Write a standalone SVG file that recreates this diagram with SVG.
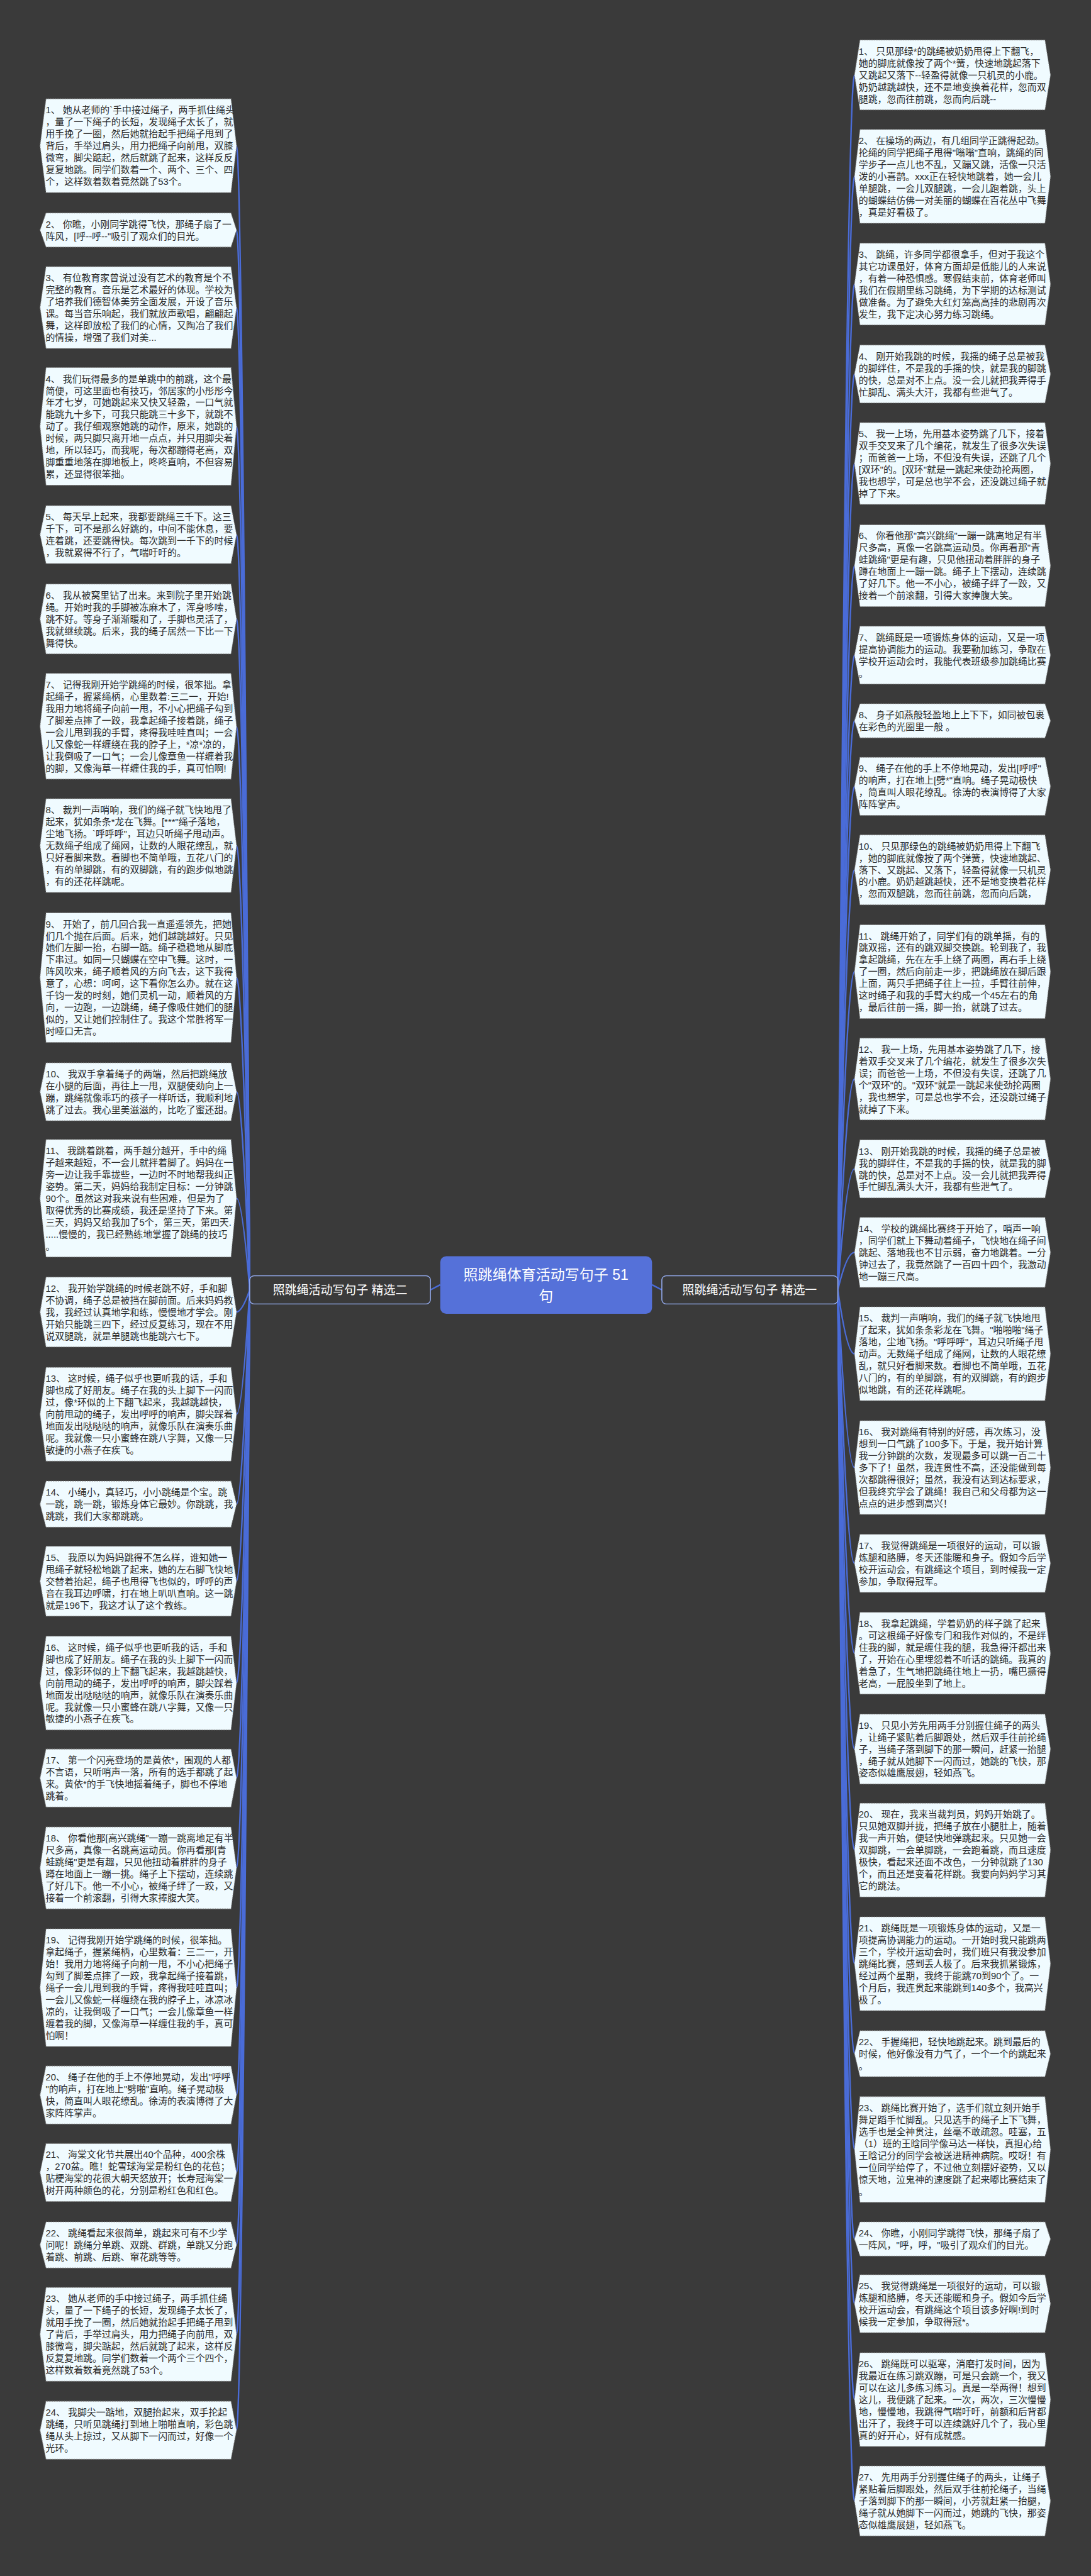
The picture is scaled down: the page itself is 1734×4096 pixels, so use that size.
<svg xmlns="http://www.w3.org/2000/svg" width="1734" height="4096" viewBox="0 0 1734 4096">
<style>
.leaf{fill:#f0fbff;stroke:#8a8a8a;stroke-width:1.6;stroke-dasharray:2 2}
.t{font-family:"Liberation Sans","Noto Sans CJK SC",sans-serif;font-size:22px;fill:#2a2a2a}
.c{fill:none;stroke:#4a6cd8;stroke-width:3.5}
.br{fill:#3a3a3a;stroke:#9db6ff;stroke-width:2}
.bt{font-family:"Liberation Sans","Noto Sans CJK SC",sans-serif;font-size:28px;fill:#ffffff}
.ct{font-family:"Liberation Sans","Noto Sans CJK SC",sans-serif;font-size:34px;fill:#ffffff}
</style>
<rect x="0" y="0" width="1734" height="4096" fill="#3a3a3a"/>
<g transform="scale(0.67734)">
<g id="connectors">
<path class="c" d="M1033,3016 L1010,3028"/>
<path class="c" d="M1530,3016 L1553,3028"/>
<path class="c" d="M586,3028 Q568,342 555,342"/>
<path class="c" d="M586,3028 Q568,540 555,540"/>
<path class="c" d="M586,3028 Q568,722 555,722"/>
<path class="c" d="M586,3028 Q568,1001 555,1001"/>
<path class="c" d="M586,3028 Q568,1255 555,1255"/>
<path class="c" d="M586,3028 Q568,1453 555,1453"/>
<path class="c" d="M586,3028 Q568,1705 555,1705"/>
<path class="c" d="M586,3028 Q568,1985 555,1985"/>
<path class="c" d="M586,3028 Q568,2295 555,2295"/>
<path class="c" d="M586,3028 Q568,2563 555,2563"/>
<path class="c" d="M586,3028 Q568,2813 555,2813"/>
<path class="c" d="M586,3028 Q568,3080 555,3080"/>
<path class="c" d="M586,3028 Q568,3320 555,3320"/>
<path class="c" d="M586,3028 Q568,3531 555,3531"/>
<path class="c" d="M586,3028 Q568,3712 555,3712"/>
<path class="c" d="M586,3028 Q568,3951 555,3951"/>
<path class="c" d="M586,3028 Q568,4174 555,4174"/>
<path class="c" d="M586,3028 Q568,4385 555,4385"/>
<path class="c" d="M586,3028 Q568,4666 555,4666"/>
<path class="c" d="M586,3028 Q568,4918 555,4918"/>
<path class="c" d="M586,3028 Q568,5100 555,5100"/>
<path class="c" d="M586,3028 Q568,5270 555,5270"/>
<path class="c" d="M586,3028 Q568,5480 555,5480"/>
<path class="c" d="M586,3028 Q568,5705 555,5705"/>
<path class="c" d="M1966,3028 Q1987,176 2005,176"/>
<path class="c" d="M1966,3028 Q1987,414 2005,414"/>
<path class="c" d="M1966,3028 Q1987,667 2005,667"/>
<path class="c" d="M1966,3028 Q1987,878 2005,878"/>
<path class="c" d="M1966,3028 Q1987,1088 2005,1088"/>
<path class="c" d="M1966,3028 Q1987,1328 2005,1328"/>
<path class="c" d="M1966,3028 Q1987,1538 2005,1538"/>
<path class="c" d="M1966,3028 Q1987,1692 2005,1692"/>
<path class="c" d="M1966,3028 Q1987,1846 2005,1846"/>
<path class="c" d="M1966,3028 Q1987,2042 2005,2042"/>
<path class="c" d="M1966,3028 Q1987,2281 2005,2281"/>
<path class="c" d="M1966,3028 Q1987,2533 2005,2533"/>
<path class="c" d="M1966,3028 Q1987,2744 2005,2744"/>
<path class="c" d="M1966,3028 Q1987,2940 2005,2940"/>
<path class="c" d="M1966,3028 Q1987,3178 2005,3178"/>
<path class="c" d="M1966,3028 Q1987,3445 2005,3445"/>
<path class="c" d="M1966,3028 Q1987,3670 2005,3670"/>
<path class="c" d="M1966,3028 Q1987,3881 2005,3881"/>
<path class="c" d="M1966,3028 Q1987,4106 2005,4106"/>
<path class="c" d="M1966,3028 Q1987,4343 2005,4343"/>
<path class="c" d="M1966,3028 Q1987,4610 2005,4610"/>
<path class="c" d="M1966,3028 Q1987,4821 2005,4821"/>
<path class="c" d="M1966,3028 Q1987,5046 2005,5046"/>
<path class="c" d="M1966,3028 Q1987,5256 2005,5256"/>
<path class="c" d="M1966,3028 Q1987,5408 2005,5408"/>
<path class="c" d="M1966,3028 Q1987,5633 2005,5633"/>
<path class="c" d="M1966,3028 Q1987,5871 2005,5871"/>
</g>
<g id="center">
<rect x="1033" y="2949" width="497" height="135" rx="14" fill="#5571d9"/>
<text class="ct" text-anchor="middle"><tspan x="1281" y="3004">照跳绳体育活动写句子 51</tspan><tspan x="1281" y="3055">句</tspan></text>
</g>
<g id="branch-left">
<rect class="br" x="586" y="2995" width="424" height="66" rx="10"/>
<text class="bt" x="798" y="3038" text-anchor="middle">照跳绳活动写句子 精选二</text>
</g>
<g id="branch-right">
<rect class="br" x="1553" y="2995" width="413" height="66" rx="10"/>
<text class="bt" x="1759" y="3038" text-anchor="middle">照跳绳活动写句子 精选一</text>
</g>

<g id="L1"><polygon class="leaf" points="94,342 108,232 542,232 555,342 542,452 108,452"/><text class="t" y="266"><tspan x="107">1、 她从老师的`手中接过绳子，两手抓住绳头</tspan><tspan x="107" dy="28">，量了一下绳子的长短，发现绳子太长了，就</tspan><tspan x="107" dy="28">用手挽了一圈，然后她就抬起手把绳子甩到了</tspan><tspan x="107" dy="28">背后，手举过肩头，用力把绳子向前甩，双膝</tspan><tspan x="107" dy="28">微弯，脚尖踮起，然后就跳了起来，这样反反</tspan><tspan x="107" dy="28">复复地跳。同学们数着一个、两个、三个、四</tspan><tspan x="107" dy="28">个，这样数着数着竟然跳了53个。</tspan></text></g>
<g id="L2"><polygon class="leaf" points="94,540 108,500 542,500 555,540 542,580 108,580"/><text class="t" y="534"><tspan x="107">2、 你瞧，小刚同学跳得飞快，那绳子扇了一</tspan><tspan x="107" dy="28">阵风，[呼--呼--"吸引了观众们的目光。</tspan></text></g>
<g id="L3"><polygon class="leaf" points="94,722 108,626 542,626 555,722 542,818 108,818"/><text class="t" y="660"><tspan x="107">3、 有位教育家曾说过没有艺术的教育是个不</tspan><tspan x="107" dy="28">完整的教育。音乐是艺术最好的体现。学校为</tspan><tspan x="107" dy="28">了培养我们德智体美劳全面发展，开设了音乐</tspan><tspan x="107" dy="28">课。每当音乐响起，我们就放声歌唱，翩翩起</tspan><tspan x="107" dy="28">舞，这样即放松了我们的心情，又陶冶了我们</tspan><tspan x="107" dy="28">的情操，增强了我们对美...</tspan></text></g>
<g id="L4"><polygon class="leaf" points="94,1001 108,863 542,863 555,1001 542,1139 108,1139"/><text class="t" y="897"><tspan x="107">4、 我们玩得最多的是单跳中的前跳，这个最</tspan><tspan x="107" dy="28">简便，可这里面也有技巧，邻居家的小彤彤今</tspan><tspan x="107" dy="28">年才七岁，可她跳起来又快又轻盈，一口气就</tspan><tspan x="107" dy="28">能跳九十多下，可我只能跳三十多下，就跳不</tspan><tspan x="107" dy="28">动了。我仔细观察她跳的动作，原来，她跳的</tspan><tspan x="107" dy="28">时候，两只脚只离开地一点点，并只用脚尖着</tspan><tspan x="107" dy="28">地，所以轻巧，而我呢，每次都蹦得老高，双</tspan><tspan x="107" dy="28">脚重重地落在脚地板上，咚咚直响，不但容易</tspan><tspan x="107" dy="28">累，还显得很笨拙。</tspan></text></g>
<g id="L5"><polygon class="leaf" points="94,1255 108,1187 542,1187 555,1255 542,1323 108,1323"/><text class="t" y="1221"><tspan x="107">5、 每天早上起来，我都要跳绳三千下。这三</tspan><tspan x="107" dy="28">千下，可不是那么好跳的，中间不能休息，要</tspan><tspan x="107" dy="28">连着跳，还要跳得快。每次跳到一千下的时候</tspan><tspan x="107" dy="28">，我就累得不行了，气喘吁吁的。</tspan></text></g>
<g id="L6"><polygon class="leaf" points="94,1453 108,1371 542,1371 555,1453 542,1535 108,1535"/><text class="t" y="1405"><tspan x="107">6、 我从被窝里钻了出来。来到院子里开始跳</tspan><tspan x="107" dy="28">绳。开始时我的手脚被冻麻木了，浑身哆嗦，</tspan><tspan x="107" dy="28">跳不好。等身子渐渐暖和了，手脚也灵活了，</tspan><tspan x="107" dy="28">我就继续跳。后来，我的绳子居然一下比一下</tspan><tspan x="107" dy="28">舞得快。</tspan></text></g>
<g id="L7"><polygon class="leaf" points="94,1705 108,1581 542,1581 555,1705 542,1829 108,1829"/><text class="t" y="1615"><tspan x="107">7、 记得我刚开始学跳绳的时候，很笨拙。拿</tspan><tspan x="107" dy="28">起绳子，握紧绳柄，心里数着:三二一，开始!</tspan><tspan x="107" dy="28">我用力地将绳子向前一甩，不小心把绳子勾到</tspan><tspan x="107" dy="28">了脚差点摔了一跤，我拿起绳子接着跳，绳子</tspan><tspan x="107" dy="28">一会儿甩到我的手臂，疼得我哇哇直叫；一会</tspan><tspan x="107" dy="28">儿又像蛇一样缠绕在我的脖子上，*凉*凉的，</tspan><tspan x="107" dy="28">让我倒吸了一口气；一会儿像章鱼一样缠着我</tspan><tspan x="107" dy="28">的脚，又像海草一样缠住我的手，真可怕啊!</tspan></text></g>
<g id="L8"><polygon class="leaf" points="94,1985 108,1875 542,1875 555,1985 542,2095 108,2095"/><text class="t" y="1909"><tspan x="107">8、 裁判一声哨响，我们的绳子就飞快地甩了</tspan><tspan x="107" dy="28">起来，犹如条条*龙在飞舞。[***"绳子落地，</tspan><tspan x="107" dy="28">尘地飞扬。`呼呼呼"，耳边只听绳子甩动声。</tspan><tspan x="107" dy="28">无数绳子组成了绳网，让数的人眼花缭乱，就</tspan><tspan x="107" dy="28">只好看脚来数。看脚也不简单哦，五花八门的</tspan><tspan x="107" dy="28">，有的单脚跳，有的双脚跳，有的跑步似地跳</tspan><tspan x="107" dy="28">，有的还花样跳呢。</tspan></text></g>
<g id="L9"><polygon class="leaf" points="94,2295 108,2143 542,2143 555,2295 542,2447 108,2447"/><text class="t" y="2177"><tspan x="107">9、 开始了，前几回合我一直遥遥领先，把她</tspan><tspan x="107" dy="28">们几个抛在后面。后来，她们越跳越好。只见</tspan><tspan x="107" dy="28">她们左脚一抬，右脚一踮。绳子稳稳地从脚底</tspan><tspan x="107" dy="28">下串过。如同一只蝴蝶在空中飞舞。这时，一</tspan><tspan x="107" dy="28">阵风吹来，绳子顺着风的方向飞去，这下我得</tspan><tspan x="107" dy="28">意了，心想：呵呵，这下看你怎么办。就在这</tspan><tspan x="107" dy="28">千钧一发的时刻，她们灵机一动，顺着风的方</tspan><tspan x="107" dy="28">向，一边跑，一边跳绳，绳子像吸住她们的腿</tspan><tspan x="107" dy="28">似的，又让她们控制住了。我这个常胜将军一</tspan><tspan x="107" dy="28">时哑口无言。</tspan></text></g>
<g id="L10"><polygon class="leaf" points="94,2563 108,2495 542,2495 555,2563 542,2631 108,2631"/><text class="t" y="2529"><tspan x="107">10、 我双手拿着绳子的两端，然后把跳绳放</tspan><tspan x="107" dy="28">在小腿的后面，再往上一甩，双腿使劲向上一</tspan><tspan x="107" dy="28">蹦，跳绳就像乖巧的孩子一样听话，我顺利地</tspan><tspan x="107" dy="28">跳了过去。我心里美滋滋的，比吃了蜜还甜。</tspan></text></g>
<g id="L11"><polygon class="leaf" points="94,2813 108,2675 542,2675 555,2813 542,2951 108,2951"/><text class="t" y="2709"><tspan x="107">11、 我跳着跳着，两手越分越开，手中的绳</tspan><tspan x="107" dy="28">子越来越短，不一会儿就拌着脚了。妈妈在一</tspan><tspan x="107" dy="28">旁一边让我手靠拢些，一边时不时地帮我纠正</tspan><tspan x="107" dy="28">姿势。第二天，妈妈给我制定目标：一分钟跳</tspan><tspan x="107" dy="28">90个。虽然这对我来说有些困难，但是为了</tspan><tspan x="107" dy="28">取得优秀的比赛成绩，我还是坚持了下来。第</tspan><tspan x="107" dy="28">三天，妈妈又给我加了5个，第三天，第四天.</tspan><tspan x="107" dy="28">.....慢慢的，我已经熟练地掌握了跳绳的技巧</tspan><tspan x="107" dy="28">。</tspan></text></g>
<g id="L12"><polygon class="leaf" points="94,3080 108,2998 542,2998 555,3080 542,3162 108,3162"/><text class="t" y="3032"><tspan x="107">12、 我开始学跳绳的时候老跳不好，手和脚</tspan><tspan x="107" dy="28">不协调，绳子总是被挡在脚前面。后来妈妈教</tspan><tspan x="107" dy="28">我，我经过认真地学和练，慢慢地才学会。刚</tspan><tspan x="107" dy="28">开始只能跳三四下，经过反复练习，现在不用</tspan><tspan x="107" dy="28">说双腿跳，就是单腿跳也能跳六七下。</tspan></text></g>
<g id="L13"><polygon class="leaf" points="94,3320 108,3210 542,3210 555,3320 542,3430 108,3430"/><text class="t" y="3244"><tspan x="107">13、 这时候，绳子似乎也更听我的话，手和</tspan><tspan x="107" dy="28">脚也成了好朋友。绳子在我的头上脚下一闪而</tspan><tspan x="107" dy="28">过，像*环似的上下翻飞起来，我越跳越快，</tspan><tspan x="107" dy="28">向前甩动的绳子，发出呼呼的响声，脚尖踩着</tspan><tspan x="107" dy="28">地面发出哒哒哒的响声，就像乐队在演奏乐曲</tspan><tspan x="107" dy="28">呢。我就像一只小蜜蜂在跳八字舞，又像一只</tspan><tspan x="107" dy="28">敏捷的小燕子在疾飞。</tspan></text></g>
<g id="L14"><polygon class="leaf" points="94,3531 108,3477 542,3477 555,3531 542,3585 108,3585"/><text class="t" y="3511"><tspan x="107">14、 小绳小，真轻巧，小小跳绳是个宝。跳</tspan><tspan x="107" dy="28">一跳，跳一跳，锻炼身体它最妙。你跳跳，我</tspan><tspan x="107" dy="28">跳跳，我们大家都跳跳。</tspan></text></g>
<g id="L15"><polygon class="leaf" points="94,3712 108,3630 542,3630 555,3712 542,3794 108,3794"/><text class="t" y="3664"><tspan x="107">15、 我原以为妈妈跳得不怎么样，谁知她一</tspan><tspan x="107" dy="28">甩绳子就轻松地跳了起来，她的左右脚飞快地</tspan><tspan x="107" dy="28">交替着抬起，绳子也甩得飞也似的，呼呼的声</tspan><tspan x="107" dy="28">音在我耳边呼啸，打在地上叭叭直响。这一跳</tspan><tspan x="107" dy="28">就是196下，我这才认了这个教练。</tspan></text></g>
<g id="L16"><polygon class="leaf" points="94,3951 108,3841 542,3841 555,3951 542,4061 108,4061"/><text class="t" y="3875"><tspan x="107">16、 这时候，绳子似乎也更听我的话，手和</tspan><tspan x="107" dy="28">脚也成了好朋友。绳子在我的头上脚下一闪而</tspan><tspan x="107" dy="28">过，像彩环似的上下翻飞起来，我越跳越快，</tspan><tspan x="107" dy="28">向前甩动的绳子，发出呼呼的响声，脚尖踩着</tspan><tspan x="107" dy="28">地面发出哒哒哒的响声，就像乐队在演奏乐曲</tspan><tspan x="107" dy="28">呢。我就像一只小蜜蜂在跳八字舞，又像一只</tspan><tspan x="107" dy="28">敏捷的小燕子在疾飞。</tspan></text></g>
<g id="L17"><polygon class="leaf" points="94,4174 108,4106 542,4106 555,4174 542,4242 108,4242"/><text class="t" y="4140"><tspan x="107">17、 第一个闪亮登场的是黄依*，围观的人都</tspan><tspan x="107" dy="28">不言语，只听哨声一落，所有的选手都跳了起</tspan><tspan x="107" dy="28">来。黄依*的手飞快地摇着绳子，脚也不停地</tspan><tspan x="107" dy="28">跳着。</tspan></text></g>
<g id="L18"><polygon class="leaf" points="94,4385 108,4289 542,4289 555,4385 542,4481 108,4481"/><text class="t" y="4323"><tspan x="107">18、 你看他那[高兴跳绳"一蹦一跳离地足有半</tspan><tspan x="107" dy="28">尺多高，真像一名跳高运动员。你再看那[青</tspan><tspan x="107" dy="28">蛙跳绳"更是有趣，只见他扭动着胖胖的身子</tspan><tspan x="107" dy="28">蹲在地面上一蹦一挑。绳子上下摆动，连续跳</tspan><tspan x="107" dy="28">了好几下。他一不小心，被绳子绊了一跤，又</tspan><tspan x="107" dy="28">接着一个前滚翻，引得大家捧腹大笑。</tspan></text></g>
<g id="L19"><polygon class="leaf" points="94,4666 108,4528 542,4528 555,4666 542,4804 108,4804"/><text class="t" y="4562"><tspan x="107">19、 记得我刚开始学跳绳的时候，很笨拙。</tspan><tspan x="107" dy="28">拿起绳子，握紧绳柄，心里数着：三二一，开</tspan><tspan x="107" dy="28">始！我用力地将绳子向前一甩，不小心把绳子</tspan><tspan x="107" dy="28">勾到了脚差点摔了一跤，我拿起绳子接着跳，</tspan><tspan x="107" dy="28">绳子一会儿甩到我的手臂，疼得我哇哇直叫；</tspan><tspan x="107" dy="28">一会儿又像蛇一样缠绕在我的脖子上，冰凉冰</tspan><tspan x="107" dy="28">凉的，让我倒吸了一口气；一会儿像章鱼一样</tspan><tspan x="107" dy="28">缠着我的脚，又像海草一样缠住我的手，真可</tspan><tspan x="107" dy="28">怕啊！</tspan></text></g>
<g id="L20"><polygon class="leaf" points="94,4918 108,4850 542,4850 555,4918 542,4986 108,4986"/><text class="t" y="4884"><tspan x="107">20、 绳子在他的手上不停地晃动，发出"呼呼</tspan><tspan x="107" dy="28">"的响声，打在地上"劈啪"直响。绳子晃动极</tspan><tspan x="107" dy="28">快，简直叫人眼花缭乱。徐涛的表演博得了大</tspan><tspan x="107" dy="28">家阵阵掌声。</tspan></text></g>
<g id="L21"><polygon class="leaf" points="94,5100 108,5032 542,5032 555,5100 542,5168 108,5168"/><text class="t" y="5066"><tspan x="107">21、 海棠文化节共展出40个品种，400余株</tspan><tspan x="107" dy="28">，270盆。瞧！蛇雪球海棠是粉红色的花苞；</tspan><tspan x="107" dy="28">贴梗海棠的花很大朝天怒放开；长寿冠海棠一</tspan><tspan x="107" dy="28">树开两种颜色的花，分别是粉红色和红色。</tspan></text></g>
<g id="L22"><polygon class="leaf" points="94,5270 108,5216 542,5216 555,5270 542,5324 108,5324"/><text class="t" y="5250"><tspan x="107">22、 跳绳看起来很简单，跳起来可有不少学</tspan><tspan x="107" dy="28">问呢！跳绳分单跳、双跳、群跳，单跳又分跑</tspan><tspan x="107" dy="28">着跳、前跳、后跳、窜花跳等等。</tspan></text></g>
<g id="L23"><polygon class="leaf" points="94,5480 108,5370 542,5370 555,5480 542,5590 108,5590"/><text class="t" y="5404"><tspan x="107">23、 她从老师的手中接过绳子，两手抓住绳</tspan><tspan x="107" dy="28">头，量了一下绳子的长短，发现绳子太长了，</tspan><tspan x="107" dy="28">就用手挽了一圈，然后她就抬起手把绳子甩到</tspan><tspan x="107" dy="28">了背后，手举过肩头，用力把绳子向前甩，双</tspan><tspan x="107" dy="28">膝微弯，脚尖踮起，然后就跳了起来，这样反</tspan><tspan x="107" dy="28">反复复地跳。同学们数着一个两个三个四个，</tspan><tspan x="107" dy="28">这样数着数着竟然跳了53个。</tspan></text></g>
<g id="L24"><polygon class="leaf" points="94,5705 108,5637 542,5637 555,5705 542,5773 108,5773"/><text class="t" y="5671"><tspan x="107">24、 我脚尖一踮地，双腿抬起来，双手抡起</tspan><tspan x="107" dy="28">跳绳，只听见跳绳打到地上啪啪直响，彩色跳</tspan><tspan x="107" dy="28">绳从头上掠过，又从脚下一闪而过，好像一个</tspan><tspan x="107" dy="28">光环。</tspan></text></g>

<g id="R1"><polygon class="leaf" points="2005,176 2018,94 2452,94 2465,176 2452,258 2018,258"/><text class="t" y="128"><tspan x="2015">1、 只见那绿*的跳绳被奶奶甩得上下翻飞，</tspan><tspan x="2015" dy="28">她的脚底就像按了两个*簧，快速地跳起落下</tspan><tspan x="2015" dy="28">又跳起又落下--轻盈得就像一只机灵的小鹿。</tspan><tspan x="2015" dy="28">奶奶越跳越快，还不是地变换着花样，忽而双</tspan><tspan x="2015" dy="28">腿跳，忽而往前跳，忽而向后跳--</tspan></text></g>
<g id="R2"><polygon class="leaf" points="2005,414 2018,304 2452,304 2465,414 2452,524 2018,524"/><text class="t" y="338"><tspan x="2015">2、 在操场的两边，有几组同学正跳得起劲。</tspan><tspan x="2015" dy="28">抡绳的同学把绳子甩得"嗡嗡"直响，跳绳的同</tspan><tspan x="2015" dy="28">学步子一点儿也不乱，又蹦又跳，活像一只活</tspan><tspan x="2015" dy="28">泼的小喜鹊。xxx正在轻快地跳着，她一会儿</tspan><tspan x="2015" dy="28">单腿跳，一会儿双腿跳，一会儿跑着跳，头上</tspan><tspan x="2015" dy="28">的蝴蝶结仿佛一对美丽的蝴蝶在百花丛中飞舞</tspan><tspan x="2015" dy="28">，真是好看极了。</tspan></text></g>
<g id="R3"><polygon class="leaf" points="2005,667 2018,571 2452,571 2465,667 2452,763 2018,763"/><text class="t" y="605"><tspan x="2015">3、 跳绳，许多同学都很拿手，但对于我这个</tspan><tspan x="2015" dy="28">其它功课虽好，体育方面却是低能儿的人来说</tspan><tspan x="2015" dy="28">，有着一种恐惧感。寒假结束前，体育老师叫</tspan><tspan x="2015" dy="28">我们在假期里练习跳绳，为下学期的达标测试</tspan><tspan x="2015" dy="28">做准备。为了避免大红灯笼高高挂的悲剧再次</tspan><tspan x="2015" dy="28">发生，我下定决心努力练习跳绳。</tspan></text></g>
<g id="R4"><polygon class="leaf" points="2005,878 2018,810 2452,810 2465,878 2452,946 2018,946"/><text class="t" y="844"><tspan x="2015">4、 刚开始我跳的时候，我摇的绳子总是被我</tspan><tspan x="2015" dy="28">的脚绊住，不是我的手摇的快，就是我的脚跳</tspan><tspan x="2015" dy="28">的快，总是对不上点。没一会儿就把我弄得手</tspan><tspan x="2015" dy="28">忙脚乱、满头大汗，我都有些泄气了。</tspan></text></g>
<g id="R5"><polygon class="leaf" points="2005,1088 2018,992 2452,992 2465,1088 2452,1184 2018,1184"/><text class="t" y="1026"><tspan x="2015">5、 我一上场，先用基本姿势跳了几下，接着</tspan><tspan x="2015" dy="28">双手交叉来了几个编花，就发生了很多次失误</tspan><tspan x="2015" dy="28">；而爸爸一上场，不但没有失误，还跳了几个</tspan><tspan x="2015" dy="28">[双环"的。[双环"就是一跳起来使劲抡两圈，</tspan><tspan x="2015" dy="28">我也想学，可是总也学不会，还没跳过绳子就</tspan><tspan x="2015" dy="28">掉了下来。</tspan></text></g>
<g id="R6"><polygon class="leaf" points="2005,1328 2018,1232 2452,1232 2465,1328 2452,1424 2018,1424"/><text class="t" y="1266"><tspan x="2015">6、 你看他那"高兴跳绳"一蹦一跳离地足有半</tspan><tspan x="2015" dy="28">尺多高，真像一名跳高运动员。你再看那"青</tspan><tspan x="2015" dy="28">蛙跳绳"更是有趣，只见他扭动着胖胖的身子</tspan><tspan x="2015" dy="28">蹲在地面上一蹦一跳。绳子上下摆动，连续跳</tspan><tspan x="2015" dy="28">了好几下。他一不小心，被绳子绊了一跤，又</tspan><tspan x="2015" dy="28">接着一个前滚翻，引得大家捧腹大笑。</tspan></text></g>
<g id="R7"><polygon class="leaf" points="2005,1538 2018,1470 2452,1470 2465,1538 2452,1606 2018,1606"/><text class="t" y="1504"><tspan x="2015">7、 跳绳既是一项锻炼身体的运动，又是一项</tspan><tspan x="2015" dy="28">提高协调能力的运动。我要勤加练习，争取在</tspan><tspan x="2015" dy="28">学校开运动会时，我能代表班级参加跳绳比赛</tspan><tspan x="2015" dy="28">。</tspan></text></g>
<g id="R8"><polygon class="leaf" points="2005,1692 2018,1652 2452,1652 2465,1692 2452,1732 2018,1732"/><text class="t" y="1686"><tspan x="2015">8、 身子如燕般轻盈地上上下下，如同被包裹</tspan><tspan x="2015" dy="28">在彩色的光圈里一般 。</tspan></text></g>
<g id="R9"><polygon class="leaf" points="2005,1846 2018,1778 2452,1778 2465,1846 2452,1914 2018,1914"/><text class="t" y="1812"><tspan x="2015">9、 绳子在他的手上不停地晃动，发出[呼呼"</tspan><tspan x="2015" dy="28">的响声，打在地上[劈*"直响。绳子晃动极快</tspan><tspan x="2015" dy="28">，简直叫人眼花缭乱。徐涛的表演博得了大家</tspan><tspan x="2015" dy="28">阵阵掌声。</tspan></text></g>
<g id="R10"><polygon class="leaf" points="2005,2042 2018,1960 2452,1960 2465,2042 2452,2124 2018,2124"/><text class="t" y="1994"><tspan x="2015">10、 只见那绿色的跳绳被奶奶甩得上下翻飞</tspan><tspan x="2015" dy="28">，她的脚底就像按了两个弹簧，快速地跳起、</tspan><tspan x="2015" dy="28">落下、又跳起、又落下，轻盈得就像一只机灵</tspan><tspan x="2015" dy="28">的小鹿。奶奶越跳越快，还不是地变换着花样</tspan><tspan x="2015" dy="28">，忽而双腿跳，忽而往前跳，忽而向后跳，</tspan></text></g>
<g id="R11"><polygon class="leaf" points="2005,2281 2018,2171 2452,2171 2465,2281 2452,2391 2018,2391"/><text class="t" y="2205"><tspan x="2015">11、 跳绳开始了，同学们有的跳单摇，有的</tspan><tspan x="2015" dy="28">跳双摇，还有的跳双脚交换跳。轮到我了，我</tspan><tspan x="2015" dy="28">拿起跳绳，先在左手上绕了两圈，再右手上绕</tspan><tspan x="2015" dy="28">了一圈，然后向前走一步，把跳绳放在脚后跟</tspan><tspan x="2015" dy="28">上面，两只手把绳子往上一拉，手臂往前伸，</tspan><tspan x="2015" dy="28">这时绳子和我的手臂大约成一个45左右的角</tspan><tspan x="2015" dy="28">，最后往前一摇，脚一抬，就跳了过去。</tspan></text></g>
<g id="R12"><polygon class="leaf" points="2005,2533 2018,2437 2452,2437 2465,2533 2452,2629 2018,2629"/><text class="t" y="2471"><tspan x="2015">12、 我一上场，先用基本姿势跳了几下，接</tspan><tspan x="2015" dy="28">着双手交叉来了几个编花，就发生了很多次失</tspan><tspan x="2015" dy="28">误；而爸爸一上场，不但没有失误，还跳了几</tspan><tspan x="2015" dy="28">个"双环"的。"双环"就是一跳起来使劲抡两圈</tspan><tspan x="2015" dy="28">，我也想学，可是总也学不会，还没跳过绳子</tspan><tspan x="2015" dy="28">就掉了下来。</tspan></text></g>
<g id="R13"><polygon class="leaf" points="2005,2744 2018,2676 2452,2676 2465,2744 2452,2812 2018,2812"/><text class="t" y="2710"><tspan x="2015">13、 刚开始我跳的时候，我摇的绳子总是被</tspan><tspan x="2015" dy="28">我的脚绊住，不是我的手摇的快，就是我的脚</tspan><tspan x="2015" dy="28">跳的快，总是对不上点。没一会儿就把我弄得</tspan><tspan x="2015" dy="28">手忙脚乱满头大汗，我都有些泄气了。</tspan></text></g>
<g id="R14"><polygon class="leaf" points="2005,2940 2018,2858 2452,2858 2465,2940 2452,3022 2018,3022"/><text class="t" y="2892"><tspan x="2015">14、 学校的跳绳比赛终于开始了，哨声一响</tspan><tspan x="2015" dy="28">，同学们就上下舞动着绳子，飞快地在绳子间</tspan><tspan x="2015" dy="28">跳起、落地我也不甘示弱，奋力地跳着。一分</tspan><tspan x="2015" dy="28">钟过去了，我竟然跳了一百四十四个，我激动</tspan><tspan x="2015" dy="28">地一蹦三尺高。</tspan></text></g>
<g id="R15"><polygon class="leaf" points="2005,3178 2018,3068 2452,3068 2465,3178 2452,3288 2018,3288"/><text class="t" y="3102"><tspan x="2015">15、 裁判一声哨响，我们的绳子就飞快地甩</tspan><tspan x="2015" dy="28">了起来，犹如条条彩龙在飞舞。"啪啪啪"绳子</tspan><tspan x="2015" dy="28">落地，尘地飞扬。"呼呼呼"，耳边只听绳子甩</tspan><tspan x="2015" dy="28">动声。无数绳子组成了绳网，让数的人眼花缭</tspan><tspan x="2015" dy="28">乱，就只好看脚来数。看脚也不简单哦，五花</tspan><tspan x="2015" dy="28">八门的，有的单脚跳，有的双脚跳，有的跑步</tspan><tspan x="2015" dy="28">似地跳，有的还花样跳呢。</tspan></text></g>
<g id="R16"><polygon class="leaf" points="2005,3445 2018,3335 2452,3335 2465,3445 2452,3555 2018,3555"/><text class="t" y="3369"><tspan x="2015">16、 我对跳绳有特别的好感，再次练习，没</tspan><tspan x="2015" dy="28">想到一口气跳了100多下。于是，我开始计算</tspan><tspan x="2015" dy="28">我一分钟跳的次数，发现最多可以跳一百二十</tspan><tspan x="2015" dy="28">多下了！虽然，我连贯性不高，还没能做到每</tspan><tspan x="2015" dy="28">次都跳得很好；虽然，我没有达到达标要求，</tspan><tspan x="2015" dy="28">但我终究学会了跳绳！我自己和父母都为这一</tspan><tspan x="2015" dy="28">点点的进步感到高兴！</tspan></text></g>
<g id="R17"><polygon class="leaf" points="2005,3670 2018,3602 2452,3602 2465,3670 2452,3738 2018,3738"/><text class="t" y="3636"><tspan x="2015">17、 我觉得跳绳是一项很好的运动，可以锻</tspan><tspan x="2015" dy="28">炼腿和胳膊，冬天还能暖和身子。假如今后学</tspan><tspan x="2015" dy="28">校开运动会，有跳绳这个项目，到时候我一定</tspan><tspan x="2015" dy="28">参加，争取得冠军。</tspan></text></g>
<g id="R18"><polygon class="leaf" points="2005,3881 2018,3785 2452,3785 2465,3881 2452,3977 2018,3977"/><text class="t" y="3819"><tspan x="2015">18、 我拿起跳绳，学着奶奶的样子跳了起来</tspan><tspan x="2015" dy="28">。可这根绳子好像专门和我作对似的，不是绊</tspan><tspan x="2015" dy="28">住我的脚，就是缠住我的腿，我急得汗都出来</tspan><tspan x="2015" dy="28">了，开始在心里埋怨着不听话的跳绳。我真的</tspan><tspan x="2015" dy="28">着急了，生气地把跳绳往地上一扔，嘴巴撅得</tspan><tspan x="2015" dy="28">老高，一屁股坐到了地上。</tspan></text></g>
<g id="R19"><polygon class="leaf" points="2005,4106 2018,4024 2452,4024 2465,4106 2452,4188 2018,4188"/><text class="t" y="4058"><tspan x="2015">19、 只见小芳先用两手分别握住绳子的两头</tspan><tspan x="2015" dy="28">，让绳子紧贴着后脚跟处，然后双手往前抡绳</tspan><tspan x="2015" dy="28">子，当绳子落到脚下的那一瞬间，赶紧一抬腿</tspan><tspan x="2015" dy="28">，绳子就从她脚下一闪而过，她跳的飞快，那</tspan><tspan x="2015" dy="28">姿态似雄鹰展翅，轻如燕飞。</tspan></text></g>
<g id="R20"><polygon class="leaf" points="2005,4343 2018,4233 2452,4233 2465,4343 2452,4453 2018,4453"/><text class="t" y="4267"><tspan x="2015">20、 现在，我来当裁判员，妈妈开始跳了。</tspan><tspan x="2015" dy="28">只见她双脚并拢，把绳子放在小腿肚上，随着</tspan><tspan x="2015" dy="28">我一声开始，便轻快地弹跳起来。只见她一会</tspan><tspan x="2015" dy="28">双脚跳，一会单脚跳，一会跑着跳，而且速度</tspan><tspan x="2015" dy="28">极快，看起来还面不改色，一分钟就跳了130</tspan><tspan x="2015" dy="28">个，而且还是变着花样跳。我要向妈妈学习其</tspan><tspan x="2015" dy="28">它的跳法。</tspan></text></g>
<g id="R21"><polygon class="leaf" points="2005,4610 2018,4500 2452,4500 2465,4610 2452,4720 2018,4720"/><text class="t" y="4534"><tspan x="2015">21、 跳绳既是一项锻炼身体的运动，又是一</tspan><tspan x="2015" dy="28">项提高协调能力的运动。一开始时我只能跳两</tspan><tspan x="2015" dy="28">三个，学校开运动会时，我们班只有我没参加</tspan><tspan x="2015" dy="28">跳绳比赛，感到丢人极了。后来我抓紧锻炼，</tspan><tspan x="2015" dy="28">经过两个星期，我终于能跳70到90个了。一</tspan><tspan x="2015" dy="28">个月后，我连贯起来能跳到140多个，我高兴</tspan><tspan x="2015" dy="28">极了。</tspan></text></g>
<g id="R22"><polygon class="leaf" points="2005,4821 2018,4767 2452,4767 2465,4821 2452,4875 2018,4875"/><text class="t" y="4801"><tspan x="2015">22、 手握绳把，轻快地跳起来。跳到最后的</tspan><tspan x="2015" dy="28">时候，他好像没有力气了，一个一个的跳起来</tspan><tspan x="2015" dy="28">。</tspan></text></g>
<g id="R23"><polygon class="leaf" points="2005,5046 2018,4922 2452,4922 2465,5046 2452,5170 2018,5170"/><text class="t" y="4956"><tspan x="2015">23、 跳绳比赛开始了，选手们就立刻开始手</tspan><tspan x="2015" dy="28">舞足蹈手忙脚乱。只见选手的绳子上下飞舞，</tspan><tspan x="2015" dy="28">选手也是全神贯注，丝毫不敢疏忽。哇塞，五</tspan><tspan x="2015" dy="28">（1）班的王晗同学像马达一样快，真担心给</tspan><tspan x="2015" dy="28">王晗记分的同学会被送进精神病院。哎呀！有</tspan><tspan x="2015" dy="28">一位同学给停了，不过他立刻摆好姿势，又以</tspan><tspan x="2015" dy="28">惊天地，泣鬼神的速度跳了起来嘟比赛结束了</tspan><tspan x="2015" dy="28">。</tspan></text></g>
<g id="R24"><polygon class="leaf" points="2005,5256 2018,5216 2452,5216 2465,5256 2452,5296 2018,5296"/><text class="t" y="5250"><tspan x="2015">24、 你瞧，小刚同学跳得飞快，那绳子扇了</tspan><tspan x="2015" dy="28">一阵风，"呼，呼，"吸引了观众们的目光。</tspan></text></g>
<g id="R25"><polygon class="leaf" points="2005,5408 2018,5340 2452,5340 2465,5408 2452,5476 2018,5476"/><text class="t" y="5374"><tspan x="2015">25、 我觉得跳绳是一项很好的运动，可以锻</tspan><tspan x="2015" dy="28">炼腿和胳膊，冬天还能暖和身子。假如今后学</tspan><tspan x="2015" dy="28">校开运动会，有跳绳这个项目该多好啊!到时</tspan><tspan x="2015" dy="28">候我一定参加，争取得冠*。</tspan></text></g>
<g id="R26"><polygon class="leaf" points="2005,5633 2018,5523 2452,5523 2465,5633 2452,5743 2018,5743"/><text class="t" y="5557"><tspan x="2015">26、 跳绳既可以驱寒，消磨打发时间，因为</tspan><tspan x="2015" dy="28">我最近在练习跳双蹦，可是只会跳一个，我又</tspan><tspan x="2015" dy="28">可以在这儿多练习练习。真是一举两得！想到</tspan><tspan x="2015" dy="28">这儿，我便跳了起来。一次，两次，三次慢慢</tspan><tspan x="2015" dy="28">地，慢慢地，我跳得气喘吁吁，前额和后背都</tspan><tspan x="2015" dy="28">出汗了，我终于可以连续跳好几个了，我心里</tspan><tspan x="2015" dy="28">真的好开心，好有成就感。</tspan></text></g>
<g id="R27"><polygon class="leaf" points="2005,5871 2018,5789 2452,5789 2465,5871 2452,5953 2018,5953"/><text class="t" y="5823"><tspan x="2015">27、 先用两手分别握住绳子的两头，让绳子</tspan><tspan x="2015" dy="28">紧贴着后脚跟处，然后双手往前抡绳子，当绳</tspan><tspan x="2015" dy="28">子落到脚下的那一瞬间，小芳就赶紧一抬腿，</tspan><tspan x="2015" dy="28">绳子就从她脚下一闪而过，她跳的飞快，那姿</tspan><tspan x="2015" dy="28">态似雄鹰展翅，轻如燕飞。</tspan></text></g>
</g>
</svg>
